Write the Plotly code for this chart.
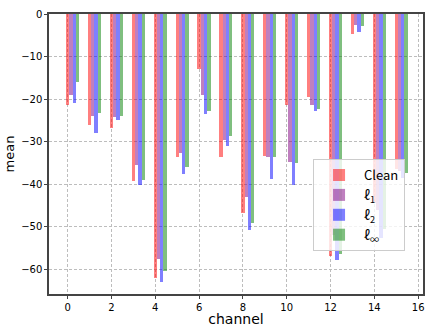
import plotly.graph_objects as go
import numpy as np

channels = list(range(16))
clean = [-21.5, -26.0, -26.8, -39.2, -62.0, -33.7, -13.0, -33.7, -46.7, -33.3, -21.5, -19.6, -56.8, -4.8, -44.3, -36.4]
l1 = [-19.1, -23.9, -24.1, -35.6, -57.5, -32.6, -19.1, -29.7, -42.9, -33.7, -34.7, -21.3, -52.0, -2.5, -46.0, -37.0]
l2 = [-20.8, -27.9, -25.0, -40.3, -62.9, -37.5, -23.4, -31.1, -50.7, -38.7, -40.3, -22.9, -57.7, -4.3, -52.7, -38.6]
linf = [-15.9, -23.2, -23.9, -38.9, -60.3, -35.9, -22.9, -28.6, -49.0, -33.5, -35.1, -22.4, -56.3, -2.9, -50.6, -37.4]

series_names = ["Clean", "ℓ<sub>1</sub>", "ℓ<sub>2</sub>", "ℓ<sub>∞</sub>"]
series_vals = [clean, l1, l2, linf]
colors = ["rgba(255,0,0,0.5)", "rgba(128,0,128,0.5)", "rgba(0,0,255,0.5)", "rgba(0,128,0,0.5)"]
bar_w = 0.15

fig = go.Figure()
ch = np.array(channels, dtype=float)
for i, (name, vals, col) in enumerate(zip(series_names, series_vals, colors)):
    fig.add_trace(go.Bar(
        x=ch + i * bar_w, y=vals, width=bar_w, name=name,
        marker=dict(color=col, line=dict(width=0)),
    ))

font = "DejaVu Sans, Noto Sans CJK SC, sans-serif"
fig.update_layout(
    width=425, height=327,
    margin=dict(l=49, r=2, t=14, b=33, autoexpand=False),
    paper_bgcolor="white", plot_bgcolor="white",
    barmode="overlay", bargap=0,
    font=dict(family=font, size=10, color="black"),
    showlegend=True,
    legend=dict(
        x=0.706, y=0.482, xanchor="left", yanchor="top",
        bgcolor="rgba(255,255,255,0.8)", bordercolor="#cccccc", borderwidth=1,
        font=dict(size=13, family="Noto Sans CJK SC, DejaVu Sans Mono, monospace"),
        tracegroupgap=3, itemwidth=40,
    ),
    xaxis=dict(
        range=[-0.85, 16.22], tickvals=list(range(0, 17, 2)),
        showgrid=True, gridcolor="#bdbdbd", griddash="3px,2px", gridwidth=1,
        showline=True, mirror=True, linecolor="#444444", linewidth=1.5,
        ticks="outside", ticklen=3, tickcolor="#444444",
        zeroline=False, automargin=False,
        title=dict(text="channel", font=dict(size=14), standoff=5),
    ),
    yaxis=dict(
        range=[-65.8, 0], tickvals=[0, -10, -20, -30, -40, -50, -60],
        showgrid=True, gridcolor="#bdbdbd", griddash="3px,2px", gridwidth=1,
        showline=True, mirror=True, linecolor="#444444", linewidth=1.5,
        ticks="outside", ticklen=3, tickcolor="#444444",
        zeroline=False, automargin=False,
        title=dict(text="mean", font=dict(size=13), standoff=4),
    ),
)

fig.write_html("out.html", post_script="document.body.style.margin='0';",
               config={"displayModeBar": False})
